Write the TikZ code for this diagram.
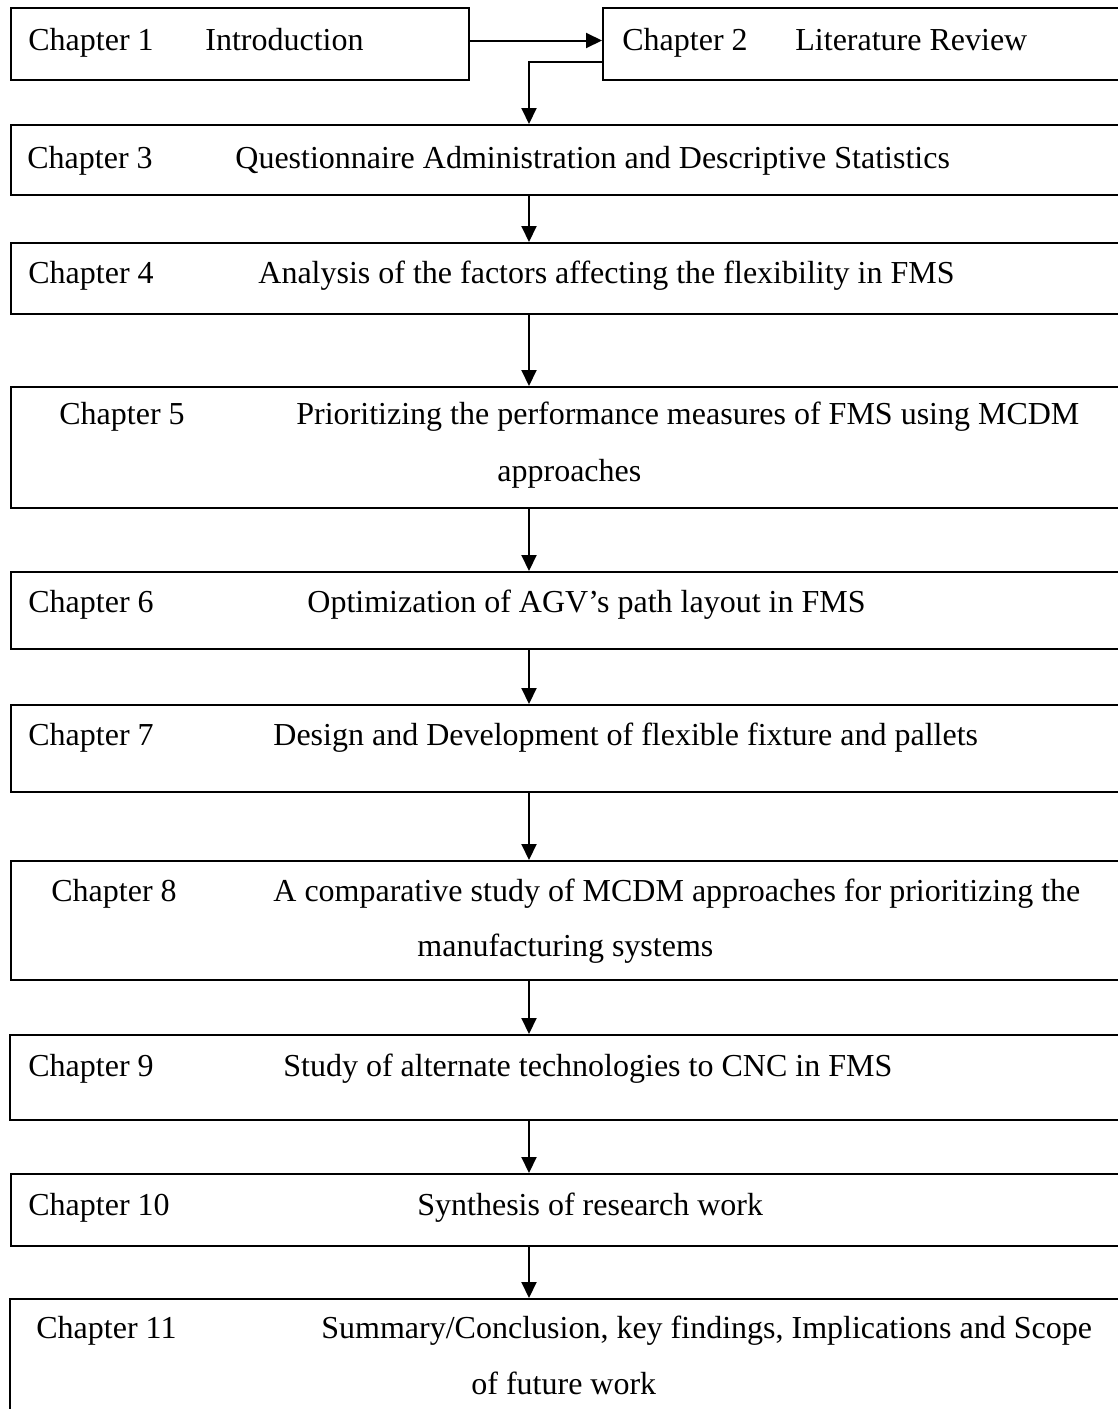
\documentclass[tikz,border=0pt]{standalone}
\usepackage{fontspec}
\setmainfont{Liberation Serif}
\usetikzlibrary{arrows.meta,calc}

\begin{document}
\begin{tikzpicture}[
  x=0.5pt, y=-0.5pt,
  chapbox/.style={draw=black, line width=1pt, fill=none, inner sep=0pt,
    anchor=north west, rectangle},
  label/.style={anchor=base west, inner sep=0pt,
    font=\fontsize{16}{18}\selectfont},
  arr/.style={draw=black, line width=1pt,
    -{Triangle[length=8pt,width=7.5pt]}}
]
% page area
\useasboundingbox (0,0) rectangle (1118,1409);
\fill[white] (0,0) rectangle (1118,1409);
\clip (0,0) rectangle (1118,1409);

% chapter boxes (they run off the right edge of the page)
\node[chapbox, minimum width=229pt, minimum height=36pt]   (b1)  at (10,7)    {};
\node[chapbox, minimum width=264pt, minimum height=36pt]   (b2)  at (602,7)   {};
\node[chapbox, minimum width=560pt, minimum height=35pt]   (b3)  at (10,124)  {};
\node[chapbox, minimum width=560pt, minimum height=35.5pt] (b4)  at (10,242)  {};
\node[chapbox, minimum width=560pt, minimum height=60.5pt] (b5)  at (10,386)  {};
\node[chapbox, minimum width=560pt, minimum height=38.5pt] (b6)  at (10,571)  {};
\node[chapbox, minimum width=560pt, minimum height=43.5pt] (b7)  at (10,704)  {};
\node[chapbox, minimum width=560pt, minimum height=59.5pt] (b8)  at (10,860)  {};
\node[chapbox, minimum width=560pt, minimum height=42.5pt] (b9)  at (9,1034)  {};
\node[chapbox, minimum width=560pt, minimum height=36pt]   (b10) at (10,1173) {};
\node[chapbox, minimum width=561pt, minimum height=61pt]   (b11) at (9,1298)  {};

% box texts
\node[label] (c1)  at (28,50)   {Chapter 1};
\node[label] (t1)  at (205,50)  {Introduction};
\node[label] (c2)  at (622,50)  {Chapter 2};
\node[label] (t2)  at (795,50)  {Literature Review};
\node[label] (c3)  at (27,168)  {Chapter 3};
\node[label] (t3)  at (235,168) {Questionnaire Administration and Descriptive Statistics};
\node[label] (c4)  at (28,283)  {Chapter 4};
\node[label] (t4)  at (258,283) {Analysis of the factors affecting the flexibility in FMS};
\node[label] (c5)  at (59,424)  {Chapter 5};
\node[label] (t5)  at (296,424) {Prioritizing the performance measures of FMS using MCDM};
\node[label] (t5b) at (497,481) {approaches};
\node[label] (c6)  at (28,612)  {Chapter 6};
\node[label] (t6)  at (307,612) {Optimization of AGV’s path layout in FMS};
\node[label] (c7)  at (28,745)  {Chapter 7};
\node[label] (t7)  at (273,745) {Design and Development of flexible fixture and pallets};
\node[label] (c8)  at (51,901)  {Chapter 8};
\node[label] (t8)  at (273,901) {A comparative study of MCDM approaches for prioritizing the};
\node[label] (t8b) at (417,956) {manufacturing systems};
\node[label] (c9)  at (28,1076) {Chapter 9};
\node[label] (t9)  at (283,1076) {Study of alternate technologies to CNC in FMS};
\node[label] (c10) at (28,1215) {Chapter 10};
\node[label] (t10) at (417,1215) {Synthesis of research work};
\node[label] (c11) at (36,1338) {Chapter 11};
\node[label] (t11) at (321,1338) {Summary/Conclusion, key findings, Implications and Scope};
\node[label] (t11b) at (471,1394) {of future work};

% connectors
\coordinate (spine) at (529,0);
\draw[arr] ([yshift=1.75pt]b1.east) -- ([yshift=1.75pt]b1.east -| b2.west);
\draw[arr] ([yshift=-9pt]b2.west) -| (spine |- b3.north);
\draw[arr] (spine |- b3.south)  -- (spine |- b4.north);
\draw[arr] (spine |- b4.south)  -- (spine |- b5.north);
\draw[arr] (spine |- b5.south)  -- (spine |- b6.north);
\draw[arr] (spine |- b6.south)  -- (spine |- b7.north);
\draw[arr] (spine |- b7.south)  -- (spine |- b8.north);
\draw[arr] (spine |- b8.south)  -- (spine |- b9.north);
\draw[arr] (spine |- b9.south)  -- (spine |- b10.north);
\draw[arr] (spine |- b10.south) -- (spine |- b11.north);
\end{tikzpicture}
\end{document}
